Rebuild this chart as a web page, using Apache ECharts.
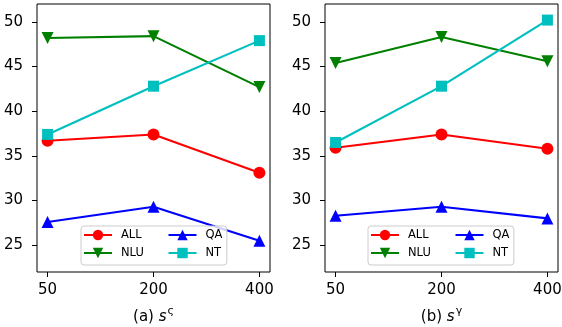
<!DOCTYPE html>
<html>
<head>
<meta charset="utf-8">
<script src="https://cdn.jsdelivr.net/npm/echarts@6/dist/echarts.min.js"></script>
<style>
html,body{margin:0;padding:0;background:#fff;}
#chart{width:562px;height:327px;}
</style>
</head>
<body>
<div id="chart"></div>
<script>
// ---- data ----
var xLabels = ['50', '200', '400'];
var yTicks = [25, 30, 35, 40, 45, 50];
var seriesNames = ['ALL', 'NLU', 'QA', 'NT'];
// (a) s^ς
var allA = [36.7, 37.4, 33.1];
var nluA = [48.2, 48.4, 42.7];
var qaA  = [27.6, 29.3, 25.5];
var ntA  = [37.4, 42.8, 47.9];
// (b) s^γ
var allB = [35.9, 37.4, 35.8];
var nluB = [45.4, 48.3, 45.6];
var qaB  = [28.3, 29.3, 28.0];
var ntB  = [36.5, 42.8, 50.2];

var FONT = 'DejaVu Sans';
var colors = {ALL: '#ff0000', NLU: '#008000', QA: '#0000ff', NT: '#00bfbf'};
var symbols = {
  ALL: 'circle',
  NLU: 'path://M0,0 L10,0 L5,10 Z',
  QA: 'triangle',
  NT: 'rect'
};

function pts(vals) {
  return vals.map(function (v, i) { return [i, v]; });
}

function mkSeries(name, vals, gi) {
  return {
    type: 'line',
    name: name,
    xAxisIndex: gi,
    yAxisIndex: gi,
    data: pts(vals),
    symbol: symbols[name],
    symbolSize: name === 'NT' ? 11 : 12,
    showSymbol: true,
    animation: false,
    lineStyle: {color: colors[name], width: 2.1},
    itemStyle: {color: colors[name]},
    z: 2 + seriesNames.indexOf(name)
  };
}

var gridLefts = [37, 325];
var gridW = 233;

var grids = gridLefts.map(function (l) {
  return {left: l, top: 4, width: gridW, height: 268, show: true,
          containLabel: false, outerBoundsMode: 'none',
          borderColor: '#000', borderWidth: 1, backgroundColor: 'transparent'};
});

var names = [
  '(a) {i|s}{sup|ς}',
  '(b) {i|s}{sup|γ}'
];

var xAxes = [0, 1].map(function (gi) {
  return {
    type: 'value', gridIndex: gi, min: -0.1, max: 2.1,
    splitLine: {show: false},
    axisLine: {show: false, onZero: false},
    axisTick: {show: true, length: 5, lineStyle: {color: '#000', width: 1}, customValues: [0, 1, 2]},
    axisLabel: {
      customValues: [0, 1, 2],
      formatter: function (v) { return xLabels[Math.round(v)]; },
      color: '#000', fontFamily: FONT, fontSize: 15, margin: 11
    },
    name: names[gi],
    nameLocation: 'middle',
    nameGap: 34,
    nameTextStyle: {
      color: '#000', fontFamily: FONT, fontSize: 15,
      rich: {
        i: {fontStyle: 'italic', fontFamily: FONT, fontSize: 15, color: '#000'},
        sup: {fontFamily: FONT, fontSize: 11, color: '#000', padding: [0, 0, 11, 1]}
      }
    }
  };
});

var yAxes = [0, 1].map(function (gi) {
  return {
    type: 'value', gridIndex: gi, min: 22, max: 52,
    splitLine: {show: false},
    axisLine: {show: false, onZero: false},
    axisTick: {show: true, length: 5, lineStyle: {color: '#000', width: 1}, customValues: yTicks},
    axisLabel: {customValues: yTicks, color: '#000', fontFamily: FONT, fontSize: 15, margin: 14}
  };
});

var series = [];
series.push(mkSeries('ALL', allA, 0), mkSeries('NLU', nluA, 0), mkSeries('QA', qaA, 0), mkSeries('NT', ntA, 0));
series.push(mkSeries('ALL', allB, 1), mkSeries('NLU', nluB, 1), mkSeries('QA', qaB, 1), mkSeries('NT', ntB, 1));

var legendBoxLefts = [81, 368];
var legends = [];
legendBoxLefts.forEach(function (bl) {
  legends.push({
    orient: 'vertical', left: bl, top: 226,
    data: ['ALL', 'NLU'],
    itemWidth: 28, itemHeight: 13, itemGap: 6,
    padding: [3, 83, 6, 2],
    backgroundColor: 'rgba(255,255,255,0.8)',
    borderColor: '#cccccc', borderWidth: 1, borderRadius: 3,
    textStyle: {fontFamily: FONT, fontSize: 11.5, color: '#000', width: 30, padding: [0, 0, 0, 4]},
    selectedMode: false, z: 10
  });
  legends.push({
    orient: 'vertical', left: bl + 86.5, top: 229,
    data: ['QA', 'NT'],
    itemWidth: 28, itemHeight: 13, itemGap: 6,
    padding: 0,
    textStyle: {fontFamily: FONT, fontSize: 11.5, color: '#000', padding: [0, 0, 0, 4]},
    selectedMode: false, z: 11
  });
});

var chart = echarts.init(document.getElementById('chart'), null, {renderer: 'canvas'});
chart.setOption({
  animation: false,
  backgroundColor: '#fff',
  grid: grids,
  xAxis: xAxes,
  yAxis: yAxes,
  legend: legends,
  series: series
});
</script>
</body>
</html>
